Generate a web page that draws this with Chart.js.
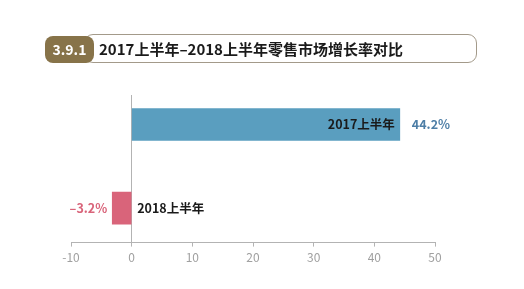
<!DOCTYPE html>
<html>
<head>
<meta charset="utf-8">
<script src="https://cdn.jsdelivr.net/npm/chart.js@4"></script>
<style>
  html, body { margin: 0; padding: 0; background: #fff; }
  body { width: 524px; height: 289px; position: relative; overflow: hidden; font-family: "Noto Sans CJK SC", "Noto Sans", sans-serif; }
  #wrap { position: absolute; left: 0; top: 0; width: 524px; height: 289px; }
  .title-frame { position: absolute; left: 84px; top: 34px; width: 391px; height: 27px; border: 1.5px solid #a39a8a; border-radius: 9px; }
  .title-num { position: absolute; left: 45px; top: 36px; width: 49px; height: 27px; background: #877349; border-radius: 8px; color: #fff; font-weight: bold; font-size: 14px; line-height: 27px; text-align: center; }
  .title-text { position: absolute; left: 99px; top: 35px; height: 27px; line-height: 27px; font-size: 15px; font-weight: bold; color: #1a1a1a; white-space: nowrap; }
</style>
</head>
<body>
<div id="wrap"><canvas id="chart" width="524" height="289"></canvas></div>
<div class="title-frame"></div>
<div class="title-num">3.9.1</div>
<div class="title-text">2017上半年–2018上半年零售市场增长率对比</div>
<script>
// chart values
const categories = ['2017上半年', '2018上半年'];
const growthRates = [44.2, -3.2];
const barColors = ['#5a9ebf', '#d9647a'];
const valueColors = ['#4d7ea6', '#d9647a'];
const xTicks = [-10, 0, 10, 20, 30, 40, 50];

// bar labels: category name next to the zero line / inside the bar, value at the bar end
const barLabels = {
  id: 'barLabels',
  afterDatasetsDraw(chart) {
    const ctx = chart.ctx;
    const meta = chart.getDatasetMeta(0);
    ctx.save();
    ctx.textBaseline = 'middle';
    meta.data.forEach((bar, i) => {
      const v = growthRates[i];
      const txt = (v < 0 ? '–' : '') + Math.abs(v).toFixed(1) + '%';
      ctx.font = 'bold 12.5px "Noto Sans CJK SC", sans-serif';
      ctx.fillStyle = '#1a1a1a';
      if (v >= 0) {
        ctx.textAlign = 'right';
        ctx.fillText(categories[i], bar.x - 5, bar.y);
        ctx.textAlign = 'left';
        ctx.fillStyle = valueColors[i];
        ctx.fillText(txt, bar.x + 12, bar.y);
      } else {
        ctx.textAlign = 'left';
        ctx.fillText(categories[i], bar.base + 6, bar.y);
        ctx.textAlign = 'right';
        ctx.fillStyle = valueColors[i];
        ctx.fillText(txt, bar.x - 5, bar.y);
      }
    });
    ctx.restore();
  }
};

new Chart(document.getElementById('chart'), {
  type: 'bar',
  data: {
    datasets: [{
      data: growthRates.map((v, i) => ({ x: v, y: i })),
      backgroundColor: barColors,
      borderWidth: 0,
      barThickness: 32
    }]
  },
  options: {
    indexAxis: 'y',
    responsive: false,
    animation: false,
    layout: { padding: { left: 71, right: 89, top: 95, bottom: 20 } },
    plugins: { legend: { display: false }, tooltip: { enabled: false } },
    scales: {
      x: {
        type: 'linear',
        min: -10,
        max: 50,
        afterBuildTicks: axis => { axis.ticks = xTicks.map(v => ({ value: v })); },
        grid: {
          color: c => (c.tick && c.tick.value === 0 ? '#b3b3b3' : 'rgba(0,0,0,0)'),
          tickColor: '#b3b3b3',
          tickLength: 4,
          lineWidth: 1
        },
        border: { display: true, color: '#b3b3b3' },
        ticks: {
          color: '#a0a0a0',
          padding: 4,
          font: { family: '"Noto Sans CJK SC", sans-serif', size: 12 }
        }
      },
      y: {
        type: 'linear',
        reverse: true,
        offset: false,
        min: -0.353,
        max: 1.412,
        display: false
      }
    }
  },
  plugins: [barLabels]
});
</script>
</body>
</html>
